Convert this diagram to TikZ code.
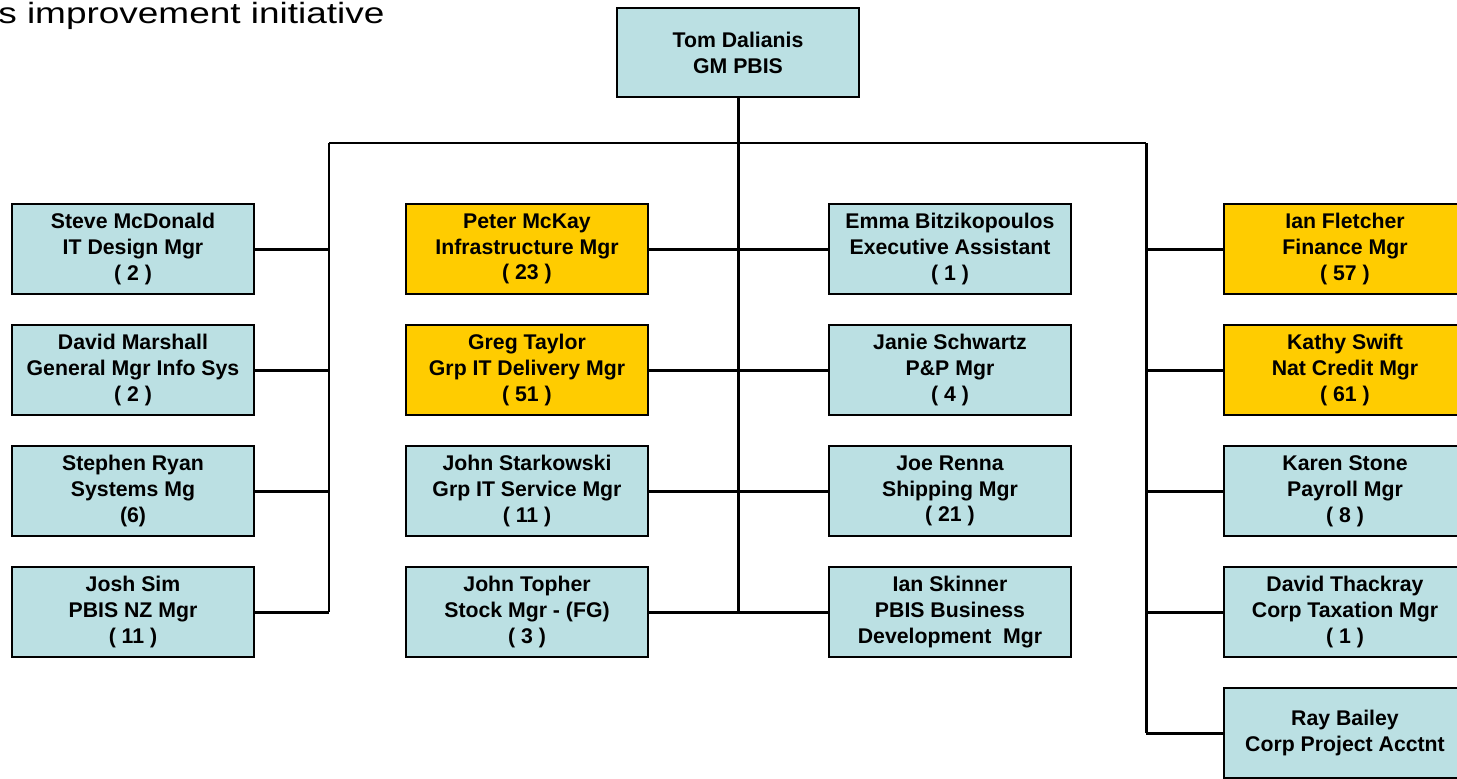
\documentclass[tikz,border=0pt]{standalone}
\usepackage{fontspec}
\setmainfont{Liberation Sans}
\definecolor{staffblue}{HTML}{BBE0E3}
\definecolor{mgrgold}{HTML}{FFCC00}

\begin{document}
\begin{tikzpicture}[x=0.02cm,y=-0.02cm,
  person/.style={draw=black,line width=1.1pt,fill=staffblue,minimum width=4.84cm,minimum height=1.8cm,
    inner sep=0pt,align=center,font=\fontsize{12.1}{14.7}\selectfont\bfseries},
  lead/.style={person,fill=mgrgold},
  link/.style={line width=1.7pt}]
\useasboundingbox (0,0) rectangle (1457,778);
\node[anchor=base east,inner sep=0pt,xscale=1.26,font=\fontsize{16.7}{20}\selectfont] (title) at (385,23) {s improvement initiative};
\node[person,minimum height=1.78cm] (tom) at (738,52.5) {Tom Dalianis\\GM PBIS};
% left column
\node[person] (sm) at (133,249) {Steve McDonald\\IT Design Mgr\\( 2 )};
\node[person] (dm) at (133,370) {David Marshall\\General Mgr Info Sys\\( 2 )};
\node[person] (sr) at (133,491) {Stephen Ryan\\Systems Mg\\(6)};
\node[person] (js) at (133,612) {Josh Sim\\PBIS NZ Mgr\\( 11 )};
% centre left
\node[lead] (pm) at (527,249) {Peter McKay\\Infrastructure Mgr\\( 23 )};
\node[lead] (gt) at (527,370) {Greg Taylor\\Grp IT Delivery Mgr\\( 51 )};
\node[person] (jst) at (527,491) {John Starkowski\\Grp IT Service Mgr\\( 11 )};
\node[person] (jt) at (527,612) {John Topher\\Stock Mgr - (FG)\\( 3 )};
% centre right
\node[person] (eb) at (950,249) {Emma Bitzikopoulos\\Executive Assistant\\( 1 )};
\node[person] (jsc) at (950,370) {Janie Schwartz\\P\&P Mgr\\( 4 )};
\node[person] (jr) at (950,491) {Joe Renna\\Shipping Mgr\\( 21 )};
\node[person] (is) at (950,612) {Ian Skinner\\PBIS Business\\Development~~Mgr};
% right column
\node[lead] (if) at (1345,249) {Ian Fletcher\\Finance Mgr\\( 57 )};
\node[lead] (ks) at (1345,370) {Kathy Swift\\Nat Credit Mgr\\( 61 )};
\node[person] (ks2) at (1345,491) {Karen Stone\\Payroll Mgr\\( 8 )};
\node[person] (dt) at (1345,612) {David Thackray\\Corp Taxation Mgr\\( 1 )};
\node[person] (rb) at (1345,733) {Ray Bailey\\Corp Project Acctnt};
% buses
\coordinate (lbus) at (329,143);
\coordinate (rbus) at (1146,143);
\draw[link] (lbus) -- (rbus);
\draw[link] (tom.south) -- (tom.south |- jt.east);
\draw[link] (lbus) -- (lbus |- js.east);
\draw[link] (rbus) -- (rbus |- rb.west);
% branches
\foreach \n in {sm,dm,sr,js} \draw[link] (\n.east) -- (\n.east -| lbus);
\foreach \n in {if,ks,ks2,dt,rb} \draw[link] (\n.west) -- (\n.west -| rbus);
\draw[link] (pm.east) -- (eb.west);
\draw[link] (gt.east) -- (jsc.west);
\draw[link] (jst.east) -- (jr.west);
\draw[link] (jt.east) -- (is.west);
\end{tikzpicture}
\end{document}
